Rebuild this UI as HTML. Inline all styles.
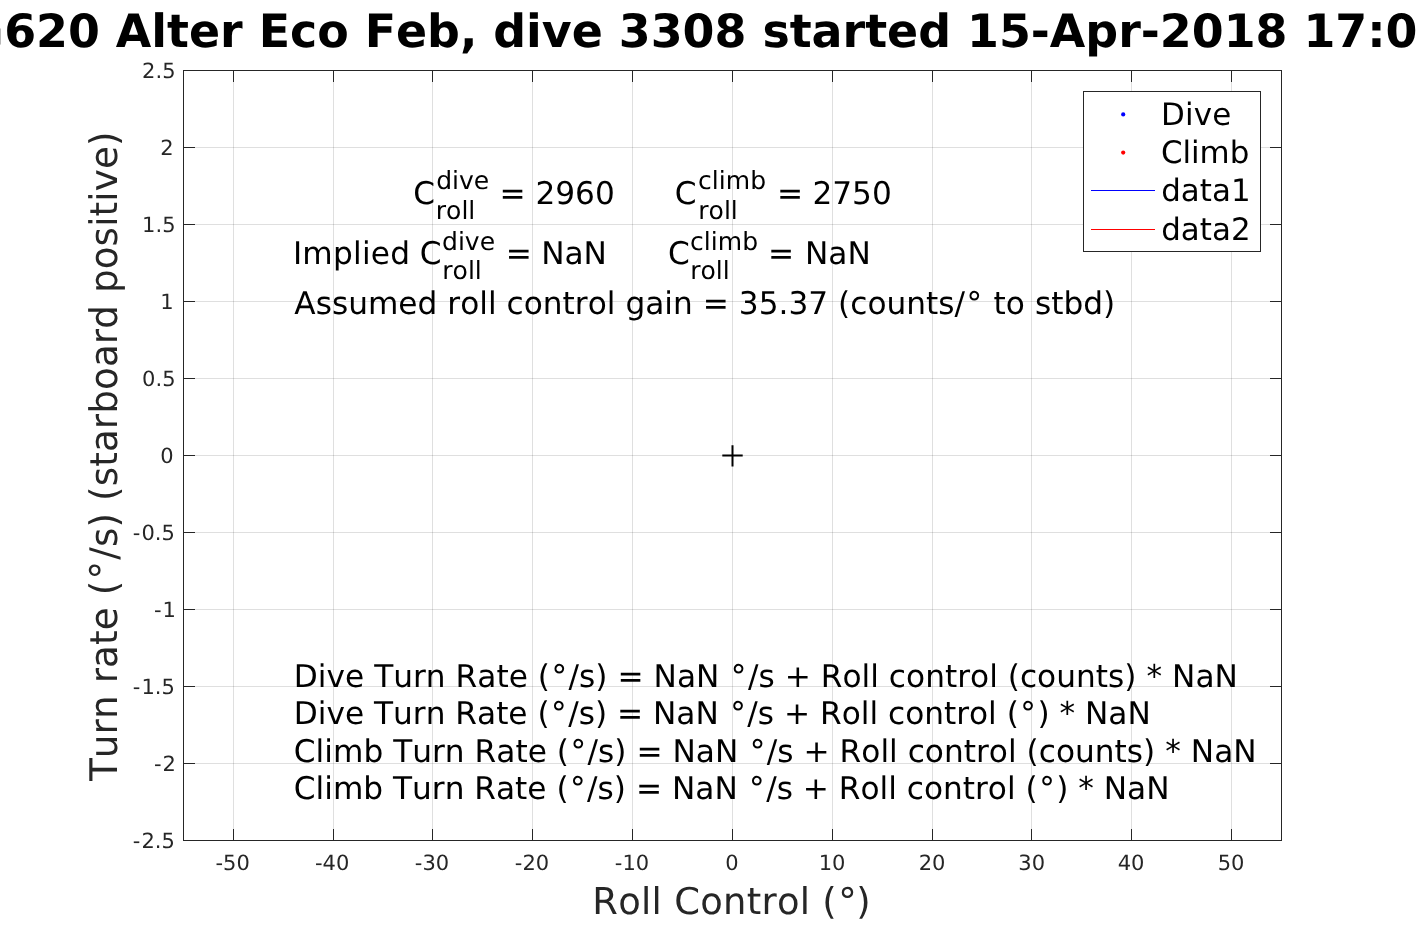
<!DOCTYPE html>
<html lang="en"><head><meta charset="utf-8"><title>Roll control regression</title>
<style>
html,body{margin:0;padding:0;background:#fff;}
body{width:1417px;height:945px;overflow:hidden;position:relative;}
svg{position:absolute;left:0;top:0;display:block;}
text{font-family:"DejaVu Sans", "Liberation Sans", sans-serif;white-space:pre;font-kerning:none;text-rendering:geometricPrecision;}
.tk{font-size:21px;fill:#262626;}
.lb{font-size:37.3px;fill:#262626;}
.lx{font-size:36.9px;fill:#262626;}
.tt{font-size:45.9px;font-weight:bold;fill:#000;}
.an{font-size:31.2px;fill:#000;}
.ss{font-size:25.04px;fill:#000;}
.lg{font-size:30.9px;fill:#000;}
</style></head><body>
<svg width="1417" height="945" viewBox="0 0 1417 945">
<rect x="0" y="0" width="1417" height="945" fill="#fff"/>

<g fill="#262626" fill-opacity="0.15" shape-rendering="crispEdges">
<rect x="233" y="71" width="1" height="769"/>
<rect x="333" y="71" width="1" height="769"/>
<rect x="432" y="71" width="1" height="769"/>
<rect x="532" y="71" width="1" height="769"/>
<rect x="632" y="71" width="1" height="769"/>
<rect x="732" y="71" width="1" height="769"/>
<rect x="832" y="71" width="1" height="769"/>
<rect x="932" y="71" width="1" height="769"/>
<rect x="1031" y="71" width="1" height="769"/>
<rect x="1131" y="71" width="1" height="769"/>
<rect x="1231" y="71" width="1" height="769"/>
<rect x="184" y="763" width="1097" height="1"/>
<rect x="184" y="686" width="1097" height="1"/>
<rect x="184" y="609" width="1097" height="1"/>
<rect x="184" y="532" width="1097" height="1"/>
<rect x="184" y="455" width="1097" height="1"/>
<rect x="184" y="378" width="1097" height="1"/>
<rect x="184" y="301" width="1097" height="1"/>
<rect x="184" y="224" width="1097" height="1"/>
<rect x="184" y="147" width="1097" height="1"/>
</g>
<g fill="#262626" shape-rendering="crispEdges">
<rect x="183" y="70" width="1099" height="1"/><rect x="183" y="840" width="1099" height="1"/>
<rect x="183" y="70" width="1" height="771"/><rect x="1281" y="70" width="1" height="771"/>
<rect x="233" y="70" width="1" height="12"/><rect x="233" y="829" width="1" height="12"/>
<rect x="333" y="70" width="1" height="12"/><rect x="333" y="829" width="1" height="12"/>
<rect x="432" y="70" width="1" height="12"/><rect x="432" y="829" width="1" height="12"/>
<rect x="532" y="70" width="1" height="12"/><rect x="532" y="829" width="1" height="12"/>
<rect x="632" y="70" width="1" height="12"/><rect x="632" y="829" width="1" height="12"/>
<rect x="732" y="70" width="1" height="12"/><rect x="732" y="829" width="1" height="12"/>
<rect x="832" y="70" width="1" height="12"/><rect x="832" y="829" width="1" height="12"/>
<rect x="932" y="70" width="1" height="12"/><rect x="932" y="829" width="1" height="12"/>
<rect x="1031" y="70" width="1" height="12"/><rect x="1031" y="829" width="1" height="12"/>
<rect x="1131" y="70" width="1" height="12"/><rect x="1131" y="829" width="1" height="12"/>
<rect x="1231" y="70" width="1" height="12"/><rect x="1231" y="829" width="1" height="12"/>
<rect x="183" y="763" width="12" height="1"/><rect x="1270" y="763" width="12" height="1"/>
<rect x="183" y="686" width="12" height="1"/><rect x="1270" y="686" width="12" height="1"/>
<rect x="183" y="609" width="12" height="1"/><rect x="1270" y="609" width="12" height="1"/>
<rect x="183" y="532" width="12" height="1"/><rect x="1270" y="532" width="12" height="1"/>
<rect x="183" y="455" width="12" height="1"/><rect x="1270" y="455" width="12" height="1"/>
<rect x="183" y="378" width="12" height="1"/><rect x="1270" y="378" width="12" height="1"/>
<rect x="183" y="301" width="12" height="1"/><rect x="1270" y="301" width="12" height="1"/>
<rect x="183" y="224" width="12" height="1"/><rect x="1270" y="224" width="12" height="1"/>
<rect x="183" y="147" width="12" height="1"/><rect x="1270" y="147" width="12" height="1"/>
</g>
<text class="tk" x="232.6" y="870" text-anchor="middle">-50</text>
<text class="tk" x="332.1" y="870" text-anchor="middle">-40</text>
<text class="tk" x="432.0" y="870" text-anchor="middle">-30</text>
<text class="tk" x="532.0" y="870" text-anchor="middle">-20</text>
<text class="tk" x="632.0" y="870" text-anchor="middle">-10</text>
<text class="tk" x="732.0" y="870" text-anchor="middle">0</text>
<text class="tk" x="832.0" y="870" text-anchor="middle">10</text>
<text class="tk" x="932.0" y="870" text-anchor="middle">20</text>
<text class="tk" x="1031.7" y="870" text-anchor="middle">30</text>
<text class="tk" x="1131.0" y="870" text-anchor="middle">40</text>
<text class="tk" x="1231.0" y="870" text-anchor="middle">50</text>
<text class="tk" x="174.8" y="847.7" text-anchor="end">-<tspan dx="1">2.5</tspan></text>
<text class="tk" x="175.9" y="770.7" text-anchor="end">-<tspan dx="1">2</tspan></text>
<text class="tk" x="174.8" y="693.7" text-anchor="end">-<tspan dx="1">1.5</tspan></text>
<text class="tk" x="175.9" y="616.7" text-anchor="end">-<tspan dx="1">1</tspan></text>
<text class="tk" x="174.8" y="539.7" text-anchor="end">-<tspan dx="1">0.5</tspan></text>
<text class="tk" x="173.5" y="462.7" text-anchor="end">0</text>
<text class="tk" x="175.5" y="385.7" text-anchor="end">0.5</text>
<text class="tk" x="173.5" y="308.7" text-anchor="end">1</text>
<text class="tk" x="175.5" y="231.7" text-anchor="end">1.5</text>
<text class="tk" x="173.5" y="154.7" text-anchor="end">2</text>
<text class="tk" x="175.5" y="77.7" text-anchor="end">2.5</text>
<text class="lx" x="592.24" y="914.00" style="letter-spacing:0.294px">Roll Control (<tspan dx="1.20">°</tspan><tspan dx="-0.80">)</tspan></text>
<text class="lb" transform="translate(117,781.02) rotate(-90) scale(1,1.02)" style="letter-spacing:0.081px">Turn rate (<tspan dx="1.16">°</tspan><tspan dx="1.16">/s) (starboard positive)</tspan></text>
<text class="tt" x="-66.97" y="46.8" style="letter-spacing:-0.018px">SG<tspan dx="0.45">620 Alter Eco Feb, dive 3308 started 15-Apr-2018 17:07:24</tspan></text>
<path d="M722.3 455.5H742.7M732.5 445.3V466.5" stroke="#000" stroke-width="2" fill="none"/>
<text class="an" x="294.30" y="313.50" style="letter-spacing:0.017px">Assumed roll control gain = 35.37 (counts/<tspan dx="1.45">°</tspan><tspan dx="1.45"> to stbd)</tspan></text>
<text class="an" x="293.77" y="686.90" style="letter-spacing:0.025px">Dive Turn Rate (<tspan dx="1.45">°</tspan><tspan dx="1.45">/s) = NaN </tspan><tspan dx="1.45">°</tspan><tspan dx="1.45">/s + Roll control (counts) * NaN</tspan></text>
<text class="an" x="293.77" y="724.20" style="letter-spacing:0.002px">Dive Turn Rate (<tspan dx="1.45">°</tspan><tspan dx="1.45">/s) = NaN </tspan><tspan dx="1.45">°</tspan><tspan dx="1.45">/s + Roll control (</tspan><tspan dx="1.45">°</tspan><tspan dx="1.45">) * NaN</tspan></text>
<text class="an" x="293.84" y="761.70" style="letter-spacing:0.020px">Climb Turn Rate (<tspan dx="1.45">°</tspan><tspan dx="1.45">/s) = NaN </tspan><tspan dx="1.45">°</tspan><tspan dx="1.45">/s + Roll control (counts) * NaN</tspan></text>
<text class="an" x="293.84" y="799.00" style="letter-spacing:-0.002px">Climb Turn Rate (<tspan dx="1.45">°</tspan><tspan dx="1.45">/s) = NaN </tspan><tspan dx="1.45">°</tspan><tspan dx="1.45">/s + Roll control (</tspan><tspan dx="1.45">°</tspan><tspan dx="1.45">) * NaN</tspan></text>
<text class="an" x="413.14" y="204.20">C</text>
<text class="ss" x="436.20" y="188.60">dive</text>
<text class="ss" x="435.80" y="219.00">roll</text>
<text class="an" x="499.57" y="204.20">=</text>
<text class="an" x="535.45" y="204.20">2960</text>
<text class="an" x="674.84" y="204.20">C</text>
<text class="ss" x="698.10" y="188.60">climb</text>
<text class="ss" x="698.30" y="219.00">roll</text>
<text class="an" x="776.88" y="204.20">=</text>
<text class="an" x="812.45" y="204.20">2750</text>
<text class="an" x="292.88" y="264.00" style="letter-spacing:0.255px">Implied</text>
<text class="an" x="419.84" y="264.00">C</text>
<text class="ss" x="442.00" y="249.90">dive</text>
<text class="ss" x="442.30" y="279.00">roll</text>
<text class="an" x="505.68" y="264.00">=</text>
<text class="an" x="541.18" y="264.00">NaN</text>
<text class="an" x="667.94" y="264.00">C</text>
<text class="ss" x="690.10" y="249.90">climb</text>
<text class="ss" x="690.20" y="279.00">roll</text>
<text class="an" x="768.08" y="264.00">=</text>
<text class="an" x="804.98" y="264.00">NaN</text>
<rect x="1083.5" y="91.5" width="177" height="160" fill="#fff" stroke="#262626" stroke-width="1" shape-rendering="crispEdges"/>
<circle cx="1123.2" cy="114.4" r="2.1" fill="#0000ff"/>
<circle cx="1123.2" cy="152.6" r="2.1" fill="#ff0000"/>
<rect x="1091" y="190" width="64" height="1" fill="#0000ff" shape-rendering="crispEdges"/>
<rect x="1091" y="229" width="64" height="1" fill="#ff0000" shape-rendering="crispEdges"/>
<text class="lg" x="1161.00" y="125.00" style="letter-spacing:0.183px">Dive</text>
<text class="lg" x="1161.05" y="162.90" style="letter-spacing:-0.061px">Climb</text>
<text class="lg" x="1161.15" y="200.90" style="letter-spacing:0.087px">data1</text>
<text class="lg" x="1161.15" y="239.90" style="letter-spacing:0.087px">data2</text>
</svg></body></html>
